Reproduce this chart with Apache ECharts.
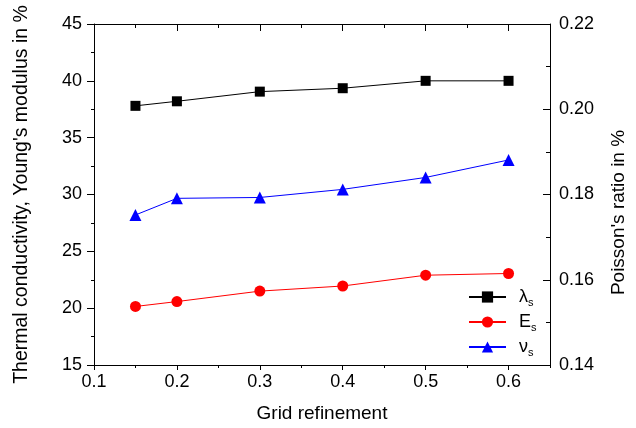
<!DOCTYPE html>
<html lang="en">
  <head>
    <meta charset="UTF-8">
    <title>Grid refinement</title>
    <script src="https://cdn.jsdelivr.net/npm/echarts@6/dist/echarts.min.js"></script>
    <style>
      html, body { margin: 0; padding: 0; background: #fff; }
    </style>
  </head>
  <body>
    <div id="main" style="width: 636px;height:428px;"></div>
    <script type="text/javascript">
      // data
      var gridRefinement = [0.15, 0.2, 0.3, 0.4, 0.5, 0.6];
      var lambdaS = [37.8, 38.2, 39.05, 39.35, 40.0, 40.0];
      var eS = [20.15, 20.58, 21.5, 21.95, 22.9, 23.05];
      var nuS = [0.1752, 0.1791, 0.1793, 0.1812, 0.1840, 0.1881];

      var leftTicks = { min: 15, max: 45, interval: 5 };
      var rightTicks = { min: 0.14, max: 0.22, interval: 0.02 };
      var xTicks = { min: 0.1, max: 0.65, interval: 0.1, minor: 0.05 };

      var FONT = 'Liberation Sans, Arial, sans-serif';
      var black = '#000';

      function pairs(xs, ys) {
        return xs.map(function (x, i) { return [x, ys[i]]; });
      }

      var myChart = echarts.init(document.getElementById('main'));

      var baseX = {
        type: 'value',
        min: xTicks.min,
        max: xTicks.max,
        splitLine: { show: false }
      };

      var option = {
        animation: false,
        backgroundColor: '#fff',
        grid: { left: 94, right: 78, top: 24, bottom: 60 },
        xAxis: [
          Object.assign({}, baseX, {
            position: 'bottom',
            interval: xTicks.interval,
            axisLine: { lineStyle: { color: black, width: 1 } },
            axisTick: { inside: false, length: 5, lineStyle: { color: black } },
            axisLabel: {
              color: black, fontSize: 18, fontFamily: FONT, margin: 8,
              showMaxLabel: false,
              formatter: function (v) { return v.toFixed(1); }
            },
            name: 'Grid refinement',
            nameLocation: 'middle',
            nameGap: 39,
            nameTextStyle: { color: black, fontSize: 19, fontFamily: FONT }
          }),
          Object.assign({}, baseX, {
            position: 'top',
            interval: xTicks.interval,
            axisLine: { lineStyle: { color: black, width: 1 } },
            axisTick: { inside: true, length: 7, lineStyle: { color: black } },
            axisLabel: { show: false }
          }),
          // minor ticks
          Object.assign({}, baseX, {
            position: 'bottom',
            interval: xTicks.minor,
            axisLine: { show: false },
            axisTick: { inside: false, length: 3, lineStyle: { color: black } },
            axisLabel: { show: false }
          }),
          Object.assign({}, baseX, {
            position: 'top',
            interval: xTicks.minor,
            axisLine: { show: false },
            axisTick: { inside: true, length: 4, lineStyle: { color: black } },
            axisLabel: { show: false }
          })
        ],
        yAxis: [
          {
            type: 'value',
            position: 'left',
            min: leftTicks.min, max: leftTicks.max, interval: leftTicks.interval,
            splitLine: { show: false },
            axisLine: { show: true, lineStyle: { color: black, width: 1 } },
            axisTick: { inside: false, length: 7, lineStyle: { color: black } },
            minorTick: { show: true, splitNumber: 2, length: 3, lineStyle: { color: black } },
            axisLabel: { color: black, fontSize: 18, fontFamily: FONT, margin: 12 },
            name: 'Thermal conductivity, Young\'s modulus in %',
            nameLocation: 'middle',
            nameGap: 62,
            nameTextStyle: { color: black, fontSize: 19.5, fontFamily: FONT }
          },
          {
            type: 'value',
            position: 'right',
            min: rightTicks.min, max: rightTicks.max, interval: rightTicks.interval,
            splitLine: { show: false },
            axisLine: { show: true, lineStyle: { color: black, width: 1 } },
            axisTick: { inside: true, length: 7, lineStyle: { color: black } },
            minorTick: { show: true, splitNumber: 2, length: 4, lineStyle: { color: black } },
            axisLabel: {
              color: black, fontSize: 18, fontFamily: FONT, margin: 9,
              formatter: function (v) { return v.toFixed(2); }
            },
            name: 'Poisson\'s ratio in %',
            nameLocation: 'middle',
            nameRotate: 90,
            nameGap: 59,
            nameTextStyle: { color: black, fontSize: 19, fontFamily: FONT, padding: [0, 36, 0, 0] }
          }
        ],
        legend: {
          orient: 'vertical',
          left: 463,
          top: 283,
          itemWidth: 37,
          itemHeight: 14,
          itemGap: 5,
          data: ['λs', 'Es', 'νs'],
          formatter: function (name) {
            return '{n|' + name.charAt(0) + '}{s|' + name.charAt(1) + '}';
          },
          textStyle: {
            color: black,
            rich: {
              n: { fontSize: 18, fontFamily: FONT, color: black, lineHeight: 22, padding: [0, 0, 0, 8] },
              s: { fontSize: 11, fontFamily: FONT, color: black, verticalAlign: 'bottom', lineHeight: 14 }
            }
          }
        },
        series: [
          {
            name: 'λs',
            type: 'line',
            xAxisIndex: 0, yAxisIndex: 0,
            data: pairs(gridRefinement, lambdaS),
            symbol: 'rect', symbolSize: 10,
            lineStyle: { color: black, width: 1 },
            itemStyle: { color: black }
          },
          {
            name: 'Es',
            type: 'line',
            xAxisIndex: 0, yAxisIndex: 0,
            data: pairs(gridRefinement, eS),
            symbol: 'circle', symbolSize: 11,
            lineStyle: { color: '#ff0000', width: 1 },
            itemStyle: { color: '#ff0000' }
          },
          {
            name: 'νs',
            type: 'line',
            xAxisIndex: 0, yAxisIndex: 1,
            data: pairs(gridRefinement, nuS),
            symbol: 'triangle', symbolSize: 12,
            lineStyle: { color: '#0000ff', width: 1 },
            itemStyle: { color: '#0000ff' }
          }
        ]
      };

      myChart.setOption(option);
    </script>
  </body>
</html>
